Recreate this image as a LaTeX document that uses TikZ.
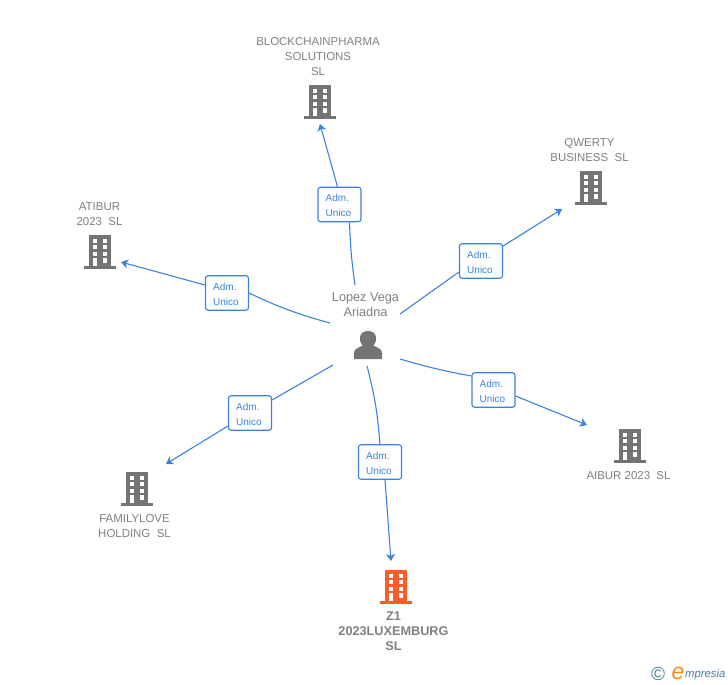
\documentclass[tikz,border=0pt]{standalone}
\usepackage{fontspec}
\usepackage{xcolor}
\usetikzlibrary{arrows.meta}
\setmainfont{Liberation Sans}
\definecolor{linkblue}{HTML}{3B82E0}
\definecolor{namegray}{HTML}{808080}
\definecolor{icongray}{HTML}{747474}
\definecolor{mainorange}{HTML}{FF5C2B}
\definecolor{logoteal}{HTML}{3F7F96}
\definecolor{logoorange}{HTML}{F28C1E}
\tikzset{
  link/.style={draw=linkblue, line width=1.1pt, -{Stealth[length=7pt,width=9pt,inset=2pt]}},
  linkin/.style={draw=linkblue, line width=1.1pt},
  role/.style={draw=linkblue, fill=white, rounded corners=2.5pt, line width=1.1pt, minimum width=43pt, minimum height=34.5pt,
    inner sep=0pt, align=left, text=linkblue, font=\fontsize{10}{15}\selectfont},
  roletext/.style={text=linkblue, inner sep=0pt, align=left, font=\fontsize{10}{15}\selectfont},
  firm/.style={text=namegray, align=center, inner sep=0pt, font=\fontsize{11.45}{15}\selectfont},
  pics/office/.style={code={
    \fill[#1] (-11,-17) rectangle (11,14);
    \fill[#1] (-16,14) rectangle (16,17);
    \foreach \cx in {-5,5} {
      \foreach \cy in {-13.5,-7,-0.5} {
        \fill[white] (\cx-2.2,\cy) rectangle (\cx+2.2,\cy+4.2);
      }
    }
    \fill[white] (-7.2,6) rectangle (-2.8,14);
    \fill[white] (2.8,6) rectangle (7.2,11);
  }}
}
\begin{document}
\begin{tikzpicture}[x=1pt,y=-1pt]
\useasboundingbox (0,0) rectangle (728,685);
% companies
\pic at (320,102) {office=icongray};
\pic at (591,188) {office=icongray};
\pic at (100,252) {office=icongray};
\pic at (630,446) {office=icongray};
\pic at (137,489) {office=icongray};
\pic at (396,587) {office=mainorange};
\node[firm] (blockchain) at (318,57) {BLOCKCHAINPHARMA\\SOLUTIONS\\SL};
\node[firm] (qwerty) at (589.5,150.5) {QWERTY\\BUSINESS\ \ SL};
\node[firm] (atibur) at (99.5,214.5) {ATIBUR\\2023\ \ SL};
\node[firm] (aibur) at (628.5,476) {AIBUR 2023\ \ SL};
\node[firm] (familylove) at (134.5,526.5) {FAMILYLOVE\\HOLDING\ \ SL};
\node[firm, font=\fontsize{12.7}{15}\selectfont\bfseries] (zone) at (393.5,631.5) {Z1\\2023LUXEMBURG\\SL};
% person
\node[firm, font=\fontsize{12.7}{15}\selectfont] (lopez) at (365.5,305) {Lopez Vega\\Ariadna};
\fill[icongray] (354,359) -- (354,353) .. controls (354,349) and (358,348) .. (362.5,345.5)
  .. controls (360,342) and (359.5,339) .. (360,337) .. controls (360.5,333) and (364,331) .. (368,331)
  .. controls (372,331) and (375.5,333) .. (376,337) .. controls (376.5,339) and (376,342) .. (373.5,345.5)
  .. controls (378,348) and (382,349) .. (382,353) -- (382,359) -- cycle;
% role boxes
\node[role] (roleA) at (339.5,204.5) {\phantom{Unico}};
\node[role] (roleB) at (481,261) {\phantom{Unico}};
\node[role] (roleC) at (227,293) {\phantom{Unico}};
\node[role] (roleD) at (493.5,390) {\phantom{Unico}};
\node[role] (roleE) at (250,413) {\phantom{Unico}};
\node[role] (roleF) at (380,462) {\phantom{Unico}};
\foreach \r in {roleA,roleB,roleC,roleD,roleE,roleF} {
  \node[roletext] (\r text) at ([xshift=-1pt,yshift=-1pt]\r.center) {Adm.\\Unico};
}
% free ends
\coordinate (startA) at (355,285);
\coordinate (startB) at (400,314);
\coordinate (startC) at (330,323);
\coordinate (startD) at (400,359);
\coordinate (startE) at (333,365);
\coordinate (startF) at (367,366);
\coordinate (endA) at (320,124);
\coordinate (endB) at (562,209);
\coordinate (endC) at (121,262);
\coordinate (endD) at (587,425);
\coordinate (endE) at (166,464);
\coordinate (endF) at (391,561);
% connectors
\draw[linkin] (startA) to[bend left=3] ([xshift=10pt]roleA.south);
\draw[link] ([xshift=-2pt]roleA.north) -- (endA);
\draw[linkin] (startB) -- ([yshift=-11pt]roleB.west);
\draw[link] ([yshift=15pt]roleB.east) -- (endB);
\draw[linkin] (startC) to[bend left=5] (roleC.east);
\draw[link] ([yshift=8pt]roleC.west) -- (endC);
\draw[linkin] (startD) to[bend right=3] ([yshift=14pt]roleD.west);
\draw[link] ([yshift=-6pt]roleD.east) -- (endD);
\draw[linkin] (startE) -- ([yshift=13pt]roleE.east);
\draw[link] ([yshift=-13pt]roleE.west) -- (endE);
\draw[linkin] (startF) to[bend left=5] (roleF.north);
\draw[link] ([xshift=5pt]roleF.south) -- (endF);
% logo
\node[text=logoteal, inner sep=0pt, font=\fontsize{19}{19}\selectfont] (copyr) at (658,674) {©};
\node[text=logoorange, inner sep=0pt, font=\fontsize{23}{23}\selectfont\itshape] (logoe) at (678,673) {e};
\node[text=logoteal, inner sep=0pt, anchor=west, font=\fontsize{11.3}{12}\selectfont\itshape] (logotext) at (685,675) {mpresia};
\end{tikzpicture}
\end{document}
